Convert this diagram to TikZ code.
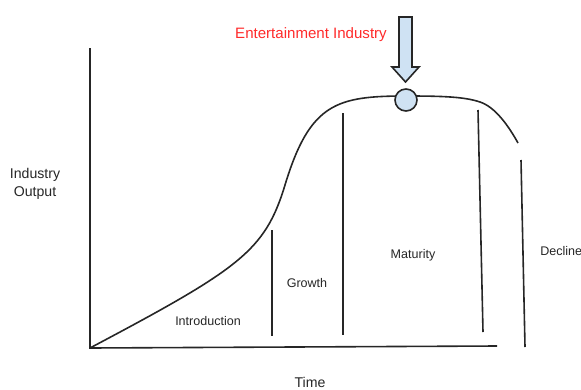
\documentclass[tikz,border=0pt]{standalone}
\usepackage{fontspec}
\setmainfont{Liberation Sans}
\begin{document}
\begin{tikzpicture}[x=0.75pt,y=-0.75pt,
  line/.style={line width=1.2pt,black!85},
  lbl/.style={inner sep=0pt,text=black!85,font=\fontsize{9.4}{11}\selectfont},
  biglbl/.style={inner sep=0pt,text=black!85,align=center,font=\fontsize{10.6}{13.5}\selectfont},
  marker/.style={circle,draw=black!85,line width=1.2pt,minimum size=22pt*0.75,inner sep=0pt}]
\useasboundingbox (0,0) rectangle (581,389);
\definecolor{paleblue}{HTML}{CFE2F3}
\definecolor{brightred}{HTML}{FF2A2A}

% axes
\coordinate (origin) at (90,348);
\coordinate (ytop) at (90,48);
\coordinate (xend) at (497,346);
\draw[line] (ytop) -- (origin) -- (xend);

% industry life-cycle curve
\coordinate (steep) at (285,185);
\coordinate (peak) at (407,96);
\coordinate (turn) at (480,102);
\coordinate (tail) at (518,143);
\draw[line] (origin) .. controls (240,268.5) and (265,251) .. (steep)
  .. controls (310,102.5) and (337,96) .. (peak)
  .. controls (445,96) and (465,97) .. (turn)
  .. controls (495,107) and (508,125) .. (tail);

% stage dividers
\coordinate (g1) at (272,230); \coordinate (g2) at (272,336);
\coordinate (m1) at (343,113); \coordinate (m2) at (343,335);
\coordinate (d1) at (478,110); \coordinate (d2) at (483,332);
\coordinate (e1) at (521,160); \coordinate (e2) at (525,347);
\draw[line] (g1) -- (g2);
\draw[line] (m1) -- (m2);
\draw[line] (d1) -- (d2);
\draw[line] (e1) -- (e2);

% stage labels
\node[lbl] (intro) at (208,321) {Introduction};
\node[lbl] (growth) at (307,283) {Growth};
\node[lbl] (maturity) at (413,255) {Maturity};
\node[lbl,anchor=west] (decline) at (540,251) {Decline};

% axis labels
\node[biglbl] (yl) at (35,184) {Industry\\Output};
\node[biglbl] (xl) at (310,382) {Time};

% highlighted position
\node[marker,fill=paleblue] (pos) at (406,100) {};
\draw[line,fill=paleblue,line join=miter]
  (399,17) -- (412,17) -- (412,67) -- (419,67) -- (405.5,82) -- (392,67) -- (399,67) -- cycle;
\node[inner sep=0pt,text=brightred,font=\fontsize{11.3}{13}\selectfont] (ent) at (311,35) {Entertainment Industry};
\end{tikzpicture}
\end{document}
